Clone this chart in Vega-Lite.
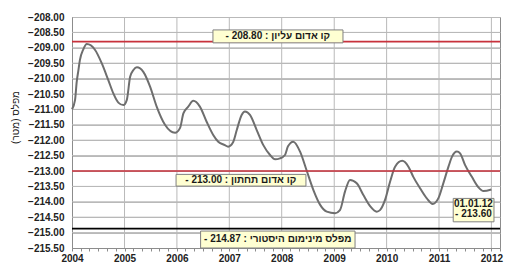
{
  "$schema": "https://vega.github.io/schema/vega-lite/v6.json",
  "width": 428,
  "height": 231,
  "autosize": {"type": "none"},
  "padding": {"left": 72, "top": 17, "right": 12, "bottom": 18},
  "background": "white",
  "config": {
    "view": {"stroke": "#8c8c8c", "strokeWidth": 1},
    "font": "Liberation Sans",
    "axis": {"labelOverlap": false}
  },
  "datasets": {
    "level": [
      {"date": "2004-01-01", "level": -211.0},
      {"date": "2004-01-22", "level": -210.7},
      {"date": "2004-02-03", "level": -210.1},
      {"date": "2004-02-14", "level": -209.75},
      {"date": "2004-02-25", "level": -209.4},
      {"date": "2004-03-20", "level": -209.05},
      {"date": "2004-04-13", "level": -208.88},
      {"date": "2004-06-10", "level": -209.07},
      {"date": "2004-07-26", "level": -209.5},
      {"date": "2004-09-10", "level": -210.05},
      {"date": "2004-10-15", "level": -210.48},
      {"date": "2004-11-19", "level": -210.78},
      {"date": "2004-12-24", "level": -210.86},
      {"date": "2005-01-17", "level": -210.69},
      {"date": "2005-02-09", "level": -209.94},
      {"date": "2005-03-04", "level": -209.72},
      {"date": "2005-03-28", "level": -209.63},
      {"date": "2005-05-12", "level": -209.78},
      {"date": "2005-06-28", "level": -210.26},
      {"date": "2005-08-13", "level": -210.91},
      {"date": "2005-10-10", "level": -211.5},
      {"date": "2005-12-19", "level": -211.76},
      {"date": "2006-01-23", "level": -211.6},
      {"date": "2006-02-15", "level": -211.13},
      {"date": "2006-03-21", "level": -210.91},
      {"date": "2006-04-25", "level": -210.72},
      {"date": "2006-06-10", "level": -210.91},
      {"date": "2006-07-27", "level": -211.4},
      {"date": "2006-09-11", "level": -211.83},
      {"date": "2006-10-16", "level": -212.05},
      {"date": "2006-12-01", "level": -212.16},
      {"date": "2006-12-24", "level": -212.21},
      {"date": "2007-01-29", "level": -212.05},
      {"date": "2007-02-22", "level": -211.67},
      {"date": "2007-03-28", "level": -211.18},
      {"date": "2007-04-20", "level": -211.07},
      {"date": "2007-05-25", "level": -211.18},
      {"date": "2007-07-11", "level": -211.67},
      {"date": "2007-08-26", "level": -212.16},
      {"date": "2007-10-12", "level": -212.48},
      {"date": "2007-11-16", "level": -212.62},
      {"date": "2007-12-20", "level": -212.59},
      {"date": "2008-01-24", "level": -212.48},
      {"date": "2008-02-14", "level": -212.2},
      {"date": "2008-03-22", "level": -212.05},
      {"date": "2008-05-08", "level": -212.37},
      {"date": "2008-06-24", "level": -213.0},
      {"date": "2008-08-09", "level": -213.62},
      {"date": "2008-09-25", "level": -214.1},
      {"date": "2008-11-10", "level": -214.32},
      {"date": "2009-01-07", "level": -214.37},
      {"date": "2009-02-10", "level": -214.27},
      {"date": "2009-03-17", "level": -213.67},
      {"date": "2009-04-21", "level": -213.29},
      {"date": "2009-06-07", "level": -213.4},
      {"date": "2009-07-23", "level": -213.78},
      {"date": "2009-09-08", "level": -214.14},
      {"date": "2009-10-24", "level": -214.32},
      {"date": "2009-11-16", "level": -214.27},
      {"date": "2009-12-21", "level": -213.94},
      {"date": "2010-01-25", "level": -213.35},
      {"date": "2010-03-01", "level": -212.86},
      {"date": "2010-04-20", "level": -212.67},
      {"date": "2010-06-02", "level": -212.86},
      {"date": "2010-07-06", "level": -213.19},
      {"date": "2010-08-22", "level": -213.56},
      {"date": "2010-10-08", "level": -213.89},
      {"date": "2010-11-18", "level": -214.07},
      {"date": "2010-12-27", "level": -213.89},
      {"date": "2011-01-31", "level": -213.4},
      {"date": "2011-03-08", "level": -212.86},
      {"date": "2011-04-01", "level": -212.54},
      {"date": "2011-05-06", "level": -212.37},
      {"date": "2011-05-28", "level": -212.43},
      {"date": "2011-07-02", "level": -212.81},
      {"date": "2011-08-18", "level": -213.19},
      {"date": "2011-10-03", "level": -213.53},
      {"date": "2011-11-07", "level": -213.65},
      {"date": "2012-01-01", "level": -213.6}
    ],
    "ygrid": [
      {"v": -215.0}, {"v": -214.5}, {"v": -214.0}, {"v": -213.5}, {"v": -213.0},
      {"v": -212.5}, {"v": -212.0}, {"v": -211.5}, {"v": -211.0}, {"v": -210.5},
      {"v": -210.0}, {"v": -209.5}, {"v": -209.0}, {"v": -208.5}
    ],
    "xgrid": [
      {"year": "2005-01-01"}, {"year": "2006-01-01"}, {"year": "2007-01-01"}, {"year": "2008-01-01"},
      {"year": "2009-01-01"}, {"year": "2010-01-01"}, {"year": "2011-01-01"}, {"year": "2012-01-01"}
    ],
    "limits": [
      {"name": "upper red line", "kind": "red", "value": -208.8},
      {"name": "lower red line", "kind": "red", "value": -213.0},
      {"name": "historic minimum", "kind": "black", "value": -214.87}
    ],
    "boxes": [
      {"start": "2006-09-09", "end": "2009-03-03", "top": -208.42, "bottom": -208.84},
      {"start": "2005-12-26", "end": "2008-06-18", "top": -213.11, "bottom": -213.49},
      {"start": "2006-06-15", "end": "2009-05-26", "top": -214.95, "bottom": -215.5},
      {"start": "2011-04-10", "end": "2012-01-19", "top": -213.89, "bottom": -214.65}
    ],
    "texts": [
      {"date": "2007-12-05", "value": -208.63, "text": "- 208.80 : קו אדום עליון"},
      {"date": "2007-03-22", "value": -213.3, "text": "- 213.00 : קו אדום תחתון"},
      {"date": "2007-12-05", "value": -215.22, "text": "- 214.87 : מפלס מינימום היסטורי"},
      {"date": "2011-08-29", "value": -214.08, "text": "01.01.12"},
      {"date": "2011-08-29", "value": -214.4, "text": "- 213.60"}
    ]
  },
  "encoding": {
    "x": {
      "field": "date", "type": "temporal",
      "scale": {"type": "utc", "domain": [{"year": 2004, "month": 1, "date": 1, "utc": true}, {"year": 2012, "month": 3, "date": 1, "utc": true}], "nice": false},
      "axis": {
        "title": null,
        "tickCount": {"interval": "month", "step": 2},
        "labelExpr": "utcmonth(datum.value) == 0 ? utcFormat(datum.value, '%Y') : ''",
        "grid": false,
        "domainColor": "#8c8c8c", "tickColor": "#8c8c8c", "tickSize": 3,
        "labelFont": "Liberation Sans", "labelFontWeight": "bold", "labelFontSize": 10,
        "labelColor": "#222222", "labelPadding": 2, "labelFlush": false, "labelOverlap": false, "labelBound": false
      }
    },
    "y": {
      "type": "quantitative", "title": "מפלס (מטר)",
      "scale": {"domain": [-215.5, -208], "nice": false, "zero": false},
      "axis": {
        "values": [-215.5, -215, -214.5, -214, -213.5, -213, -212.5, -212, -211.5, -211, -210.5, -210, -209.5, -209, -208.5, -208],
        "format": ".2f", "grid": true, "gridColor": "#b9b9b9", "gridWidth": 1, "gridOpacity": 1, "zindex": 0,
        "domainColor": "#8c8c8c", "ticks": false, "labelPadding": 8, "labelOverlap": false, "labelBound": false, "labelFlush": false,
        "labelFont": "Liberation Sans", "labelFontWeight": "bold", "labelFontSize": 10,
        "labelColor": "#222222",
        "titleFont": "Liberation Sans", "titleFontSize": 10, "titleFontWeight": "normal",
        "titleColor": "#222222", "titleAngle": -90, "titleX": -57, "titleY": 100, "titleBaseline": "middle"
      }
    }
  },
  "layer": [
    {
      "data": {"name": "ygrid"},
      "mark": {"type": "rule", "strokeWidth": 1, "stroke": "#b9b9b9", "opacity": 1},
      "encoding": {
        "x": null,
        "y": {"field": "v", "type": "quantitative"}
      }
    },
    {
      "data": {"name": "xgrid"},
      "mark": {"type": "rule", "strokeWidth": 1, "stroke": "#b9b9b9", "opacity": 1},
      "encoding": {
        "x": {"field": "year", "type": "temporal"},
        "y": null
      }
    },
    {
      "data": {"name": "level"},
      "mark": {"type": "line", "color": "#6e6e6e", "strokeWidth": 2, "interpolate": "monotone"},
      "encoding": {
        "x": {"field": "date", "type": "temporal"},
        "y": {"field": "level", "type": "quantitative"}
      }
    },
    {
      "data": {"name": "limits"},
      "mark": {"type": "rule", "strokeWidth": 1.6},
      "encoding": {
        "x": null,
        "y": {"field": "value", "type": "quantitative"},
        "color": {"field": "kind", "type": "nominal", "scale": {"domain": ["red", "black"], "range": ["#c8323c", "#000000"]}, "legend": null}
      }
    },
    {
      "data": {"name": "boxes"},
      "mark": {"type": "rect", "fill": "#ffffd2", "stroke": "#808080", "strokeWidth": 1},
      "encoding": {
        "x": {"field": "start", "type": "temporal"},
        "x2": {"field": "end"},
        "y": {"field": "top", "type": "quantitative"},
        "y2": {"field": "bottom"}
      }
    },
    {
      "data": {"name": "texts"},
      "mark": {"type": "text", "font": "Liberation Sans", "fontSize": 10, "fontWeight": "bold", "color": "#1a1a1a", "align": "center", "baseline": "middle"},
      "encoding": {
        "x": {"field": "date", "type": "temporal"},
        "y": {"field": "value", "type": "quantitative"},
        "text": {"field": "text"}
      }
    }
  ]
}
